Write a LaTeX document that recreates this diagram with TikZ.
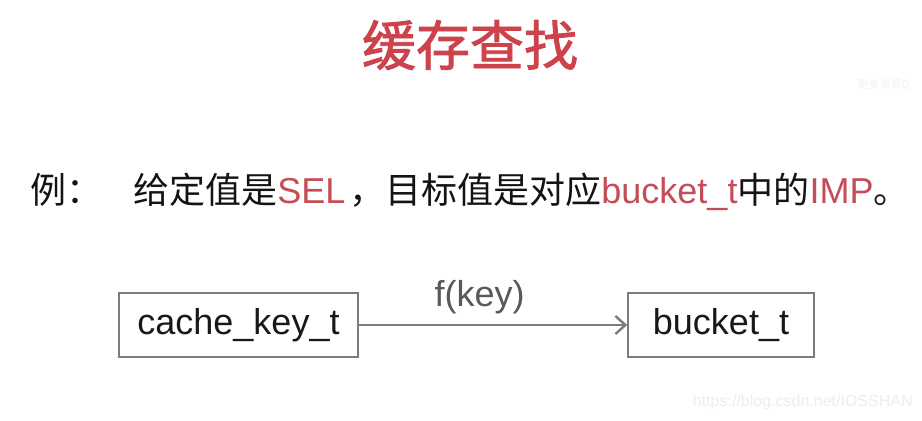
\documentclass[tikz,border=0pt]{standalone}
\usepackage{fontspec}
\setmainfont{Liberation Sans}
\newfontfamily\cjk{Noto Sans CJK SC}
\newfontfamily\cjktitle[FakeBold=1.6]{Noto Sans CJK SC}
\usetikzlibrary{arrows.meta, positioning}
\definecolor{titlered}{RGB}{206,66,76}
\definecolor{textred}{RGB}{198,76,86}
\definecolor{linegray}{RGB}{125,125,125}

\begin{document}
\begin{tikzpicture}[
    x=0.5pt, y=-0.5pt,
    box/.style={rectangle, draw=linegray, line width=0.8pt, minimum height=32pt,
                inner sep=0pt, font=\fontsize{18}{22}\selectfont, text=black!90},
    arrow/.style={-{Straight Barb[length=5pt, width=9pt, line width=1.2pt]}, draw=linegray, line width=0.8pt},
    every node/.style={font=\fontsize{18}{22}\selectfont}
]
\useasboundingbox[fill=white] (0,0) rectangle (922,420);

\node[text=titlered, font=\fontsize{27}{32}\selectfont\cjktitle] (title) at (470,45) {缓存查找};

\node[anchor=base west, inner sep=0pt, text=black!92] (example) at (30,203)
    {{\cjk 例：}\hspace{15.5pt}{\cjk 给定值是}\textcolor{textred}{SEL}\hspace{2pt}{\cjk ，目标值是对应}\textcolor{textred}{bucket\_t}{\cjk 中的}\textcolor{textred}{IMP}{\cjk 。}};

\node[box, minimum width=119.5pt] (cachekey) at (238.5,325) {cache\_key\_t};

\node[box, minimum width=93pt] (bucket) at (721,325) {bucket\_t};

% Arrows
\draw[arrow] (cachekey) -- node[pos=0.45, above=2pt, text=black!65] (hashfn) {f(key)} (bucket);

% watermarks
\node[anchor=west, inner sep=0pt, text=black!5, font=\fontsize{5.5}{7}\selectfont\cjk] (mark) at (857,85) {更多资源Q};
\node[anchor=east, inner sep=0pt, text=black!7, font=\fontsize{8}{10}\selectfont] (url) at (913,402) {https://blog.csdn.net/IOSSHAN};

\end{tikzpicture}
\end{document}
